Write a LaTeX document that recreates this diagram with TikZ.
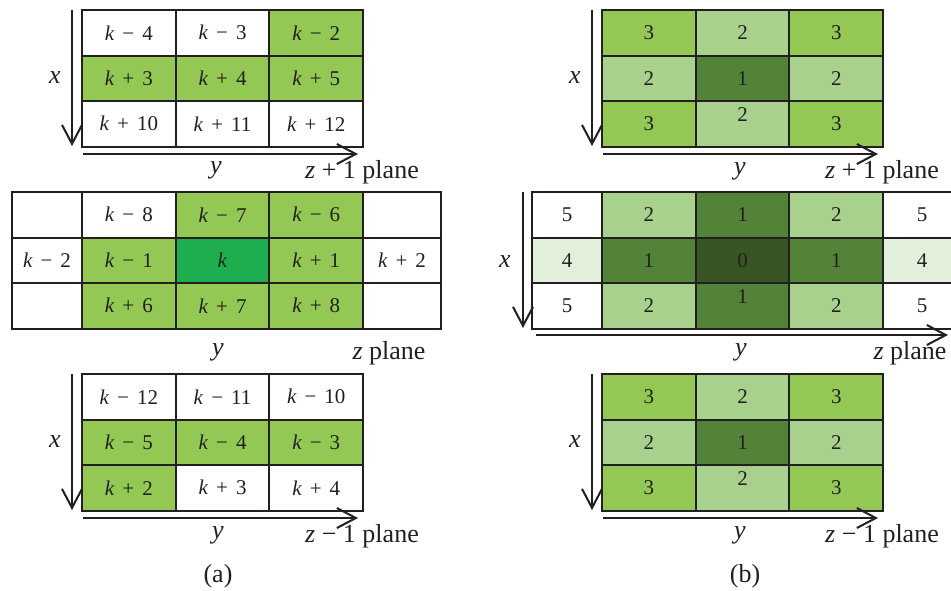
\documentclass[tikz,border=0pt]{standalone}
\usepackage{fontspec}
\setmainfont{Liberation Serif}
\usetikzlibrary{arrows.meta}
\definecolor{ink}{HTML}{231F20}
\definecolor{gmid}{HTML}{92C853}
\definecolor{glight}{HTML}{A8D18D}
\definecolor{gdark}{HTML}{538239}
\definecolor{gdeep}{HTML}{375623}
\definecolor{gpale}{HTML}{E2EFDA}
\definecolor{gkern}{HTML}{1FAE4F}
\newcommand{\kk}[2]{\textit{k}\hspace{.38em}#1\hspace{.38em}#2}
\newcommand{\lift}[1]{\raisebox{4.5pt}[\height][\depth]{#1}}
\tikzset{
  cell/.style={draw=ink,line width=1pt},
  num/.style={ink,font=\fontsize{10.5}{12}\selectfont,inner sep=0pt},
  lbl/.style={ink,font=\fontsize{13}{15}\selectfont,inner sep=0pt},
  axis/.style={-{Straight Barb[length=9.5pt,width=10pt]},ink,line width=1pt},
}
\begin{document}
\begin{tikzpicture}[x=0.5pt,y=-0.5pt]
  \useasboundingbox (0,0) rectangle (951,590);
  % ===== (a) oben: z+1 Ebene =====
  \begin{scope}[shift={(82,10)}]
    \foreach \row/\col/\fc/\txt in {0/0/white/{\kk{−}{4}}, 0/1/white/{\kk{−}{3}}, 0/2/gmid/{\kk{−}{2}},
      1/0/gmid/{\kk{+}{3}}, 1/1/gmid/{\kk{+}{4}}, 1/2/gmid/{\kk{+}{5}},
      2/0/white/{\kk{+}{10}}, 2/1/white/{\kk{+}{11}}, 2/2/white/{\kk{+}{12}}}{
      \draw[cell,fill=\fc] (\col*93.7,\row*45.5) rectangle ++(93.7,45.5);
      \node[num] (ao-\row\col) at (\col*93.7+46.85,\row*45.5+22.75) {\txt};}
    \draw[axis] (-10,0) -- (-10,136);
    \draw[axis] (1,144) -- (276,144);
    \node[lbl] (ao-x) at (-27,68) {\textit{x}};
    \node[lbl] (ao-y) at (134,160) {\textit{y}};
    \node[lbl] (ao-z) at (280,162) {\textit{z} + 1 plane};
  \end{scope}
  % ===== (a) Mitte: z Ebene, fuenf Spalten =====
  \begin{scope}[shift={(82,192)}]
    \foreach \row/\col/\fc/\txt in {0/0/white/{\kk{−}{8}}, 0/1/gmid/{\kk{−}{7}}, 0/2/gmid/{\kk{−}{6}},
      1/0/gmid/{\kk{−}{1}}, 1/1/gkern/{\textit{k}}, 1/2/gmid/{\kk{+}{1}},
      2/0/gmid/{\kk{+}{6}}, 2/1/gmid/{\kk{+}{7}}, 2/2/gmid/{\kk{+}{8}}}{
      \draw[cell,fill=\fc] (\col*93.7,\row*45.5) rectangle ++(93.7,45.5);
      \node[num] (am-\row\col) at (\col*93.7+46.85,\row*45.5+22.75) {\txt};}
    \foreach \row/\txt in {0/{},1/{\kk{−}{2}},2/{}}{
      \draw[cell,fill=white] (-70,\row*45.5) rectangle ++(70,45.5);
      \node[num] (am-l\row) at (-35,\row*45.5+22.75) {\txt};}
    \foreach \row/\txt in {0/{},1/{\kk{+}{2}},2/{}}{
      \draw[cell,fill=white] (281,\row*45.5) rectangle ++(78,45.5);
      \node[num] (am-r\row) at (320,\row*45.5+22.75) {\txt};}
    \node[lbl] (am-y) at (136,160) {\textit{y}};
    \node[lbl] (am-z) at (307,161) {\textit{z} plane};
  \end{scope}
  % ===== (a) unten: z-1 Ebene =====
  \begin{scope}[shift={(82,374)}]
    \foreach \row/\col/\fc/\txt in {0/0/white/{\kk{−}{12}}, 0/1/white/{\kk{−}{11}}, 0/2/white/{\kk{−}{10}},
      1/0/gmid/{\kk{−}{5}}, 1/1/gmid/{\kk{−}{4}}, 1/2/gmid/{\kk{−}{3}},
      2/0/gmid/{\kk{+}{2}}, 2/1/white/{\kk{+}{3}}, 2/2/white/{\kk{+}{4}}}{
      \draw[cell,fill=\fc] (\col*93.7,\row*45.5) rectangle ++(93.7,45.5);
      \node[num] (au-\row\col) at (\col*93.7+46.85,\row*45.5+22.75) {\txt};}
    \draw[axis] (-10,0) -- (-10,136);
    \draw[axis] (1,144) -- (276,144);
    \node[lbl] (au-x) at (-27,68) {\textit{x}};
    \node[lbl] (au-y) at (136,161) {\textit{y}};
    \node[lbl] (au-z) at (280,162) {\textit{z} − 1 plane};
  \end{scope}
  % ===== (b) oben und unten: z+1 und z-1 Ebene =====
  \foreach \yo/\sgn/\nm in {10/+/bo, 374/−/bu}{
    \begin{scope}[shift={(602,\yo)}]
      \foreach \row/\col/\fc/\txt in {0/0/gmid/3, 0/1/glight/2, 0/2/gmid/3,
        1/0/glight/2, 1/1/gdark/1, 1/2/glight/2,
        2/0/gmid/3, 2/1/glight/{\lift{2}}, 2/2/gmid/3}{
        \draw[cell,fill=\fc] (\col*93.7,\row*45.5) rectangle ++(93.7,45.5);
        \node[num] (\nm-\row\col) at (\col*93.7+46.85,\row*45.5+22.75) {\txt};}
      \draw[axis] (-10,0) -- (-10,136);
      \draw[axis] (1,144) -- (276,144);
      \node[lbl] (\nm-x) at (-27,68) {\textit{x}};
      \node[lbl] (\nm-y) at (138,161) {\textit{y}};
      \node[lbl] (\nm-z) at (280,162) {\textit{z} \sgn{} 1 plane};
    \end{scope}}
  % ===== (b) Mitte: z Ebene =====
  \begin{scope}[shift={(602,192)}]
    \foreach \row/\col/\fc/\txt in {0/0/glight/2, 0/1/gdark/1, 0/2/glight/2,
      1/0/gdark/1, 1/1/gdeep/0, 1/2/gdark/1,
      2/0/glight/2, 2/1/gdark/{\lift{1}}, 2/2/glight/2}{
      \draw[cell,fill=\fc] (\col*93.7,\row*45.5) rectangle ++(93.7,45.5);
      \node[num] (bm-\row\col) at (\col*93.7+46.85,\row*45.5+22.75) {\txt};}
    \foreach \row/\fc/\txt in {0/white/5, 1/gpale/4, 2/white/5}{
      \draw[cell,fill=\fc] (-70,\row*45.5) rectangle ++(70,45.5);
      \node[num] (bm-l\row) at (-35,\row*45.5+22.75) {\txt};
      \draw[cell,fill=\fc] (281,\row*45.5) rectangle ++(78,45.5);
      \node[num] (bm-r\row) at (320,\row*45.5+22.75) {\txt};}
    \draw[axis] (-79,0) -- (-79,136);
    \draw[axis] (-66,143) -- (346,143);
    \node[lbl] (bm-x) at (-97,70) {\textit{x}};
    \node[lbl] (bm-y) at (139,160) {\textit{y}};
    \node[lbl] (bm-z) at (308,161) {\textit{z} plane};
  \end{scope}
  % ===== Beschriftung =====
  \node[lbl] (cap-a) at (218,576) {(a)};
  \node[lbl] (cap-b) at (745,576) {(b)};
\end{tikzpicture}
\end{document}
